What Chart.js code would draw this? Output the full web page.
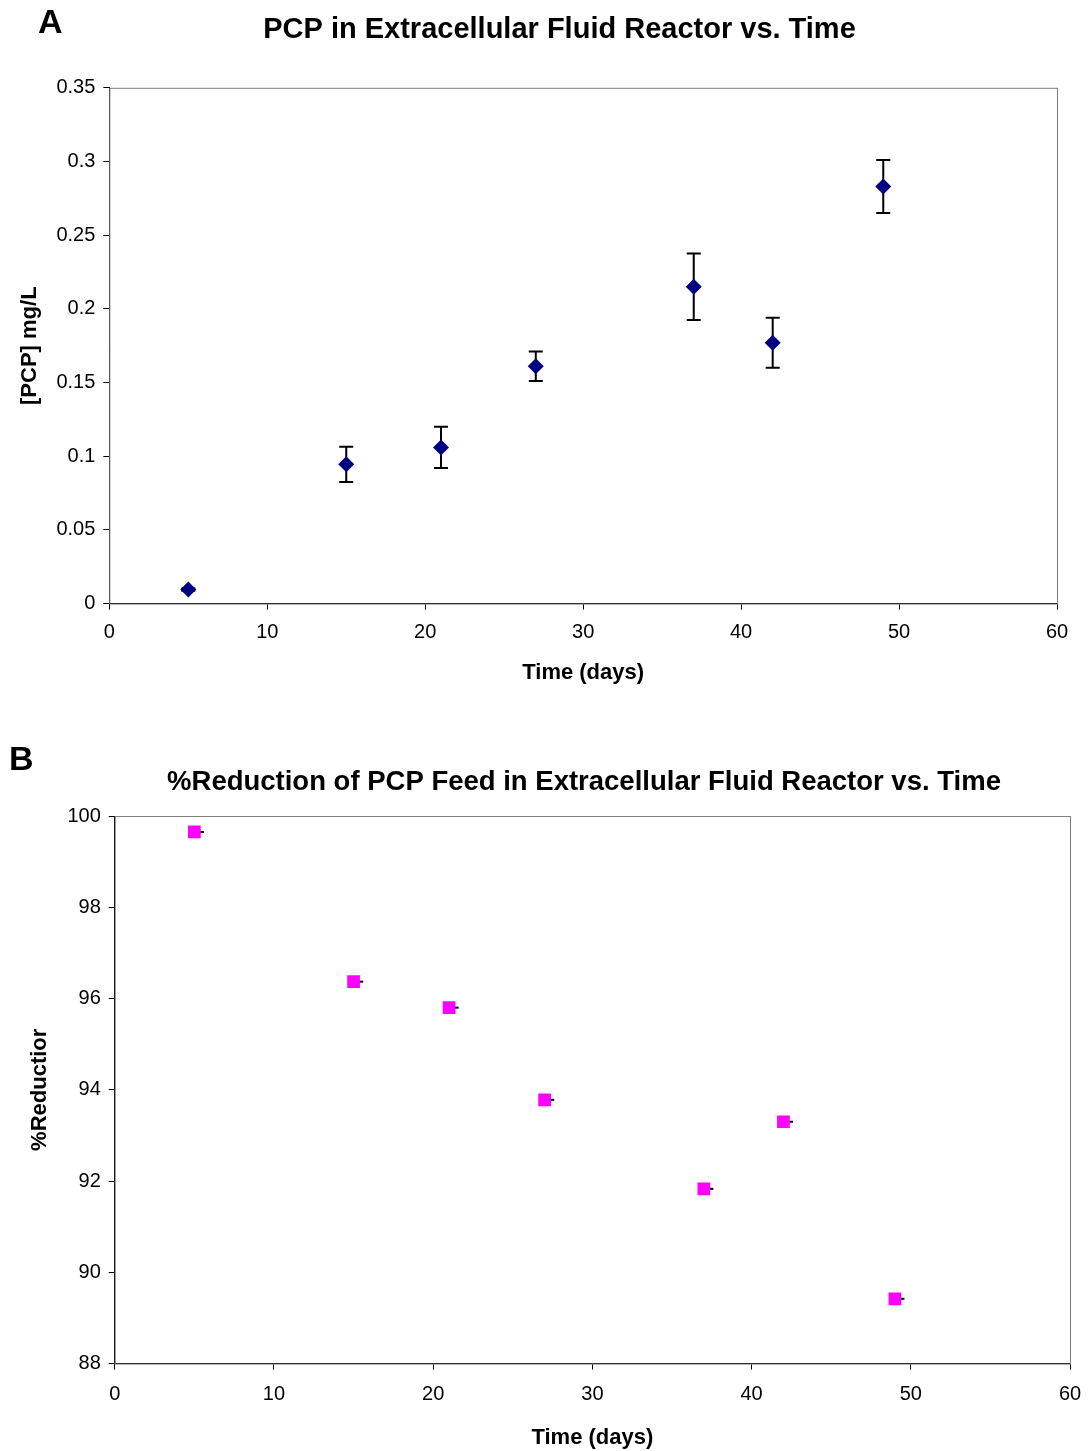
<!DOCTYPE html>
<html>
<head>
<meta charset="utf-8">
<script src="https://cdn.jsdelivr.net/npm/chart.js@4/dist/chart.umd.min.js"></script>
<style>
  body { margin: 0; background: #fff; overflow: hidden; font-family: "Liberation Sans", Arial, sans-serif; }
  .wrap { position: absolute; left: 0; }
  .letter { position: absolute; font-weight: bold; font-size: 34px; color: #000; }
</style>
</head>
<body>
<div class="wrap" style="top:0;width:1088px;height:700px;"><canvas id="pcpChart"></canvas></div>
<div class="wrap" style="top:740px;width:1120px;height:711px;"><canvas id="reductionChart"></canvas></div>
<div class="letter" style="left:38px;top:2px;">A</div>
<div class="letter" style="left:9px;top:739px;">B</div>
<script>
// Sampling days
const days = [5, 15, 21, 27, 37, 42, 49];

// PCP concentration (mg/L) and its error
const pcpValues = [0.0095, 0.0945, 0.106, 0.161, 0.215, 0.177, 0.283];
const pcpErrors = [0.0008, 0.012, 0.014, 0.010, 0.0225, 0.017, 0.018];

// % reduction of PCP feed and its error (drawn as a small stub)
const reductionValues = [99.65, 96.37, 95.80, 93.78, 91.83, 93.30, 89.42];
const reductionErrX = [0.6, 0.6, 0.6, 0.6, 0.6, 0.6, 0.6];

const fontFamily = '"Liberation Sans", Arial, sans-serif';

// box around the plot area
const frame = {
  id: 'frame',
  afterDraw(chart) {
    const a = chart.chartArea, c = chart.ctx;
    c.save();
    c.strokeStyle = '#808080';
    c.lineWidth = 1;
    c.strokeRect(a.left + 0.5, a.top + 0.5, a.right - a.left, a.bottom - a.top);
    c.restore();
  }
};

// nudge the title sideways (the original is not centred on the canvas)
function titleShift(px) {
  return {
    id: 'titleShift',
    afterLayout(chart) {
      chart.titleBlock.left += px;
      chart.titleBlock.right += px;
    }
  };
}

// vertical error bars for chart A
const yErrorBars = {
  id: 'yErrorBars',
  beforeDatasetsDraw(chart) {
    const xs = chart.scales.x, ys = chart.scales.y, c = chart.ctx;
    c.save();
    c.strokeStyle = '#000';
    c.lineWidth = 2;
    days.forEach((d, i) => {
      const x = xs.getPixelForValue(d);
      const top = ys.getPixelForValue(pcpValues[i] + pcpErrors[i]);
      const bot = ys.getPixelForValue(pcpValues[i] - pcpErrors[i]);
      c.beginPath();
      c.moveTo(x, top); c.lineTo(x, bot);
      c.moveTo(x - 7, top); c.lineTo(x + 7, top);
      c.moveTo(x - 7, bot); c.lineTo(x + 7, bot);
      c.stroke();
    });
    c.restore();
  }
};

// small horizontal error stubs for chart B
const xErrorStubs = {
  id: 'xErrorStubs',
  beforeDatasetsDraw(chart) {
    const xs = chart.scales.x, ys = chart.scales.y, c = chart.ctx;
    c.save();
    c.strokeStyle = '#000';
    c.lineWidth = 2;
    days.forEach((d, i) => {
      const y = ys.getPixelForValue(reductionValues[i]);
      c.beginPath();
      c.moveTo(xs.getPixelForValue(d), y);
      c.lineTo(xs.getPixelForValue(d + reductionErrX[i]), y);
      c.stroke();
    });
    c.restore();
  }
};

function axisCommon(min, max, step, titleText, titlePad) {
  return {
    type: 'linear',
    min: min,
    max: max,
    grid: { drawOnChartArea: false, color: '#000', tickLength: 6 },
    border: { color: '#000', width: 1 },
    ticks: {
      stepSize: step,
      color: '#000',
      font: { family: fontFamily, size: 20 },
      padding: 8,
      callback: v => String(Number(v.toFixed(2)))
    },
    title: {
      display: true,
      text: titleText,
      color: '#000',
      font: { family: fontFamily, size: 22, weight: 'bold' },
      padding: titlePad
    }
  };
}

function createPcpChart() {
  const ctx = document.getElementById('pcpChart').getContext('2d');
  const x = axisCommon(0, 60, 10, 'Time (days)', { top: 4, bottom: 0 });
  x.ticks.padding = 11;
  new Chart(ctx, {
    type: 'scatter',
    data: {
      datasets: [{
        data: days.map((d, i) => ({ x: d, y: pcpValues[i] })),
        pointStyle: 'rectRot',
        pointRadius: 8,
        backgroundColor: '#000080',
        borderColor: '#000080',
        borderWidth: 0
      }]
    },
    options: {
      responsive: true,
      maintainAspectRatio: false,
      animation: false,
      layout: { padding: { left: 0, right: 31, bottom: 14 } },
      plugins: {
        legend: { display: false },
        tooltip: { enabled: false },
        title: {
          display: true,
          text: 'PCP in Extracellular Fluid Reactor vs. Time',
          color: '#000',
          font: { family: fontFamily, size: 29, weight: 'bold' },
          padding: { top: 13, bottom: 40 }
        }
      },
      scales: {
        x: x,
        y: axisCommon(0, 0.35, 0.05, '[PCP] mg/L', { top: 17, bottom: 5 })
      }
    },
    plugins: [frame, yErrorBars, titleShift(31)]
  });
}

function createReductionChart() {
  const ctx = document.getElementById('reductionChart').getContext('2d');
  const x = axisCommon(0, 60, 10, 'Time (days)', { top: 5, bottom: 0 });
  x.ticks.padding = 13;
  new Chart(ctx, {
    type: 'scatter',
    data: {
      datasets: [{
        data: days.map((d, i) => ({ x: d, y: reductionValues[i] })),
        pointStyle: 'rect',
        pointRadius: 9,
        backgroundColor: '#FF00FF',
        borderColor: '#FF00FF',
        borderWidth: 0
      }]
    },
    options: {
      responsive: true,
      maintainAspectRatio: false,
      animation: false,
      layout: { padding: { left: 0, right: 50, bottom: 0 } },
      plugins: {
        legend: { display: false },
        tooltip: { enabled: false },
        title: {
          display: true,
          text: '%Reduction of PCP Feed in Extracellular Fluid Reactor vs. Time',
          color: '#000',
          font: { family: fontFamily, size: 27.5, weight: 'bold' },
          padding: { top: 26, bottom: 17 }
        }
      },
      scales: {
        x: x,
        y: axisCommon(88, 100, 2, '%Reductior', { top: 27, bottom: 6 })
      }
    },
    plugins: [frame, xErrorStubs, titleShift(49)]
  });
}

document.addEventListener('DOMContentLoaded', function() {
  createPcpChart();
  createReductionChart();
});
</script>
</body>
</html>
